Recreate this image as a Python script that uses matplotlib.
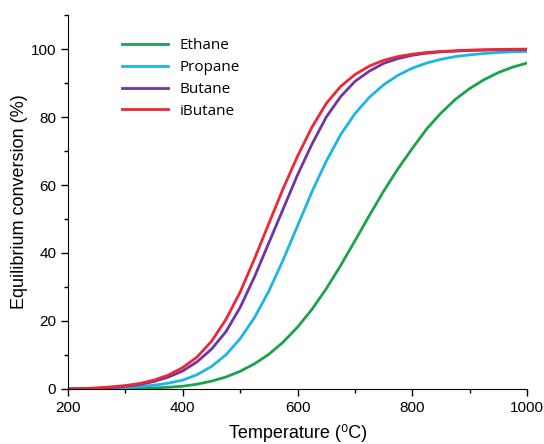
import matplotlib.pyplot as plt
from matplotlib.ticker import MultipleLocator

plt.rcParams['font.family'] = ['Liberation Sans', 'DejaVu Sans']

# temperature grid (degC) and equilibrium conversion (%)
temp = [200, 225, 250, 275, 300, 325, 350, 375, 400, 425, 450, 475, 500, 525, 550, 575,
        600, 625, 650, 675, 700, 725, 750, 775, 800, 825, 850, 875, 900, 925, 950, 975, 1000]

ethane = [0, 0, 0, 0.05, 0.1, 0.2, 0.3, 0.5, 0.8, 1.4, 2.3, 3.5, 5.2, 7.4, 10.2, 13.8,
          18.2, 23.4, 29.5, 36.3, 43.6, 51, 58.2, 64.8, 70.8, 76.5, 81.2, 85.2, 88.4, 91, 93.1, 94.7, 95.9]
propane = [0, 0.05, 0.1, 0.2, 0.4, 0.7, 1.1, 1.7, 2.6, 4.2, 6.6, 10, 14.8, 21, 28.8, 38,
           48, 58, 67, 74.8, 81, 85.8, 89.5, 92.3, 94.4, 95.9, 97, 97.8, 98.3, 98.7, 99, 99.2, 99.3]
butane = [0, 0.1, 0.2, 0.4, 0.8, 1.3, 2.2, 3.5, 5.3, 8, 11.7, 16.8, 24, 33, 43, 53,
          63, 72, 80, 86, 90.5, 93.5, 95.8, 97.2, 98.2, 98.8, 99.2, 99.4, 99.6, 99.7, 99.8, 99.85, 99.9]
ibutane = [0, 0.1, 0.3, 0.6, 1.0, 1.6, 2.6, 4.1, 6.3, 9.4, 14.0, 20.4, 28.5, 38.3, 48.7, 59,
           68.5, 77, 84, 89, 92.5, 95, 96.7, 97.8, 98.5, 99, 99.3, 99.5, 99.7, 99.8, 99.9, 99.95, 100]

names = ['Ethane', 'Propane', 'Butane', 'iButane']
colors = ['#1ba24c', '#1bb6e6', '#7134a3', '#ee2737']

fig = plt.figure(figsize=(5.44, 4.44), dpi=100)
ax = fig.add_axes([0.125, 0.124, 0.844, 0.842])

for ys, name, c in zip([ethane, propane, butane, ibutane], names, colors):
    ax.plot(temp, ys, color=c, lw=2.0, label=name)

ax.set_xlim(200, 1000)
ax.set_ylim(0, 110)
ax.xaxis.set_major_locator(MultipleLocator(200))
ax.xaxis.set_minor_locator(MultipleLocator(100))
ax.yaxis.set_major_locator(MultipleLocator(20))
ax.yaxis.set_minor_locator(MultipleLocator(10))
ax.tick_params(which='major', direction='out', length=5, width=1, labelsize=11)
ax.tick_params(which='minor', direction='out', length=3, width=1)
ax.spines['top'].set_visible(False)
ax.spines['right'].set_visible(False)

ax.set_xlabel('Temperature (\u2070C)', fontsize=13, labelpad=7)
ax.set_ylabel('Equilibrium conversion (%)', fontsize=13, labelpad=2)

leg = ax.legend(loc='upper left', bbox_to_anchor=(0.087, 0.975), frameon=False,
                handlelength=3.0, labelspacing=0.45,
                prop={'family': ['Open Sans', 'DejaVu Sans'], 'size': 11})

fig.savefig('out.png', dpi=100)
